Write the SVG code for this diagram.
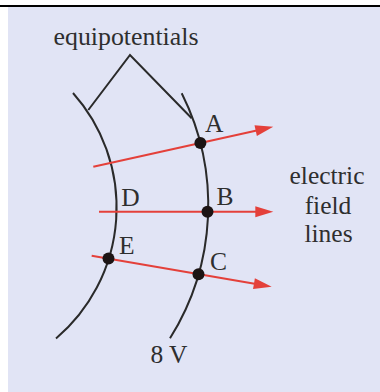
<svg xmlns="http://www.w3.org/2000/svg" width="380" height="392" viewBox="0 0 380 392">
<style>
text { font-family: "Liberation Serif", "Times New Roman", serif; font-size: 25.5px; fill: #2e2e2e; }
.eq { fill: none; stroke: #2a2a2a; stroke-width: 2; }
.field { fill: none; stroke: #E4403A; stroke-width: 2; marker-end: url(#ah); }
.dot { fill: #1c1414; }
</style>
<defs>
<marker id="ah" markerUnits="userSpaceOnUse" markerWidth="20" markerHeight="12" viewBox="0 0 18 12" refX="8" refY="6" orient="auto">
<path d="M0,0.5 L18,6 L0,11.5 Z" fill="#E4403A"/>
</marker>
</defs>
<rect x="0" y="0" width="380" height="392" fill="#FFFFFF"/>
<rect x="8" y="7" width="372" height="385" fill="#E1E4F5"/>
<rect x="0" y="5" width="380" height="2" fill="#000000"/>

<g id="equipotential-left">
<path class="eq" d="M73,93 A172,172 0 0 1 56,338.5"/>
</g>
<g id="equipotential-right">
<path class="eq" d="M181.7,93.3 A250,250 0 0 1 170,338.3"/>
</g>

<g id="connectors">
<path class="field" d="M93.3,166.7 L263.5,128.9"/>
<path class="field" d="M99,211.7 L263.3,211.7"/>
<path class="field" d="M91.7,255.7 L261.85,285"/>
<path class="eq" d="M88.3,110 L130,55 L191.7,118.3"/>
</g>

<g id="label-equipotentials">
<text x="53.5" y="45" textLength="145" lengthAdjust="spacingAndGlyphs">equipotentials</text>
</g>
<g id="point-A">
<circle class="dot" cx="200.4" cy="143" r="6"/>
<text x="205" y="131.5">A</text>
</g>
<g id="point-B">
<circle class="dot" cx="207.5" cy="211.7" r="6"/>
<text x="216.5" y="205">B</text>
</g>
<g id="point-C">
<circle class="dot" cx="198.5" cy="274.3" r="6"/>
<text x="210" y="269.5">C</text>
</g>
<g id="point-D">
<text x="121.3" y="206">D</text>
</g>
<g id="point-E">
<circle class="dot" cx="108.5" cy="258.5" r="6"/>
<text x="119" y="254">E</text>
</g>
<g id="label-field-lines">
<text x="327" y="183.5" text-anchor="middle">electric</text>
<text x="328" y="213.5" text-anchor="middle">field</text>
<text x="328.5" y="242" text-anchor="middle">lines</text>
</g>
<g id="label-8V">
<text x="169" y="363" text-anchor="middle">8 V</text>
</g>
</svg>
